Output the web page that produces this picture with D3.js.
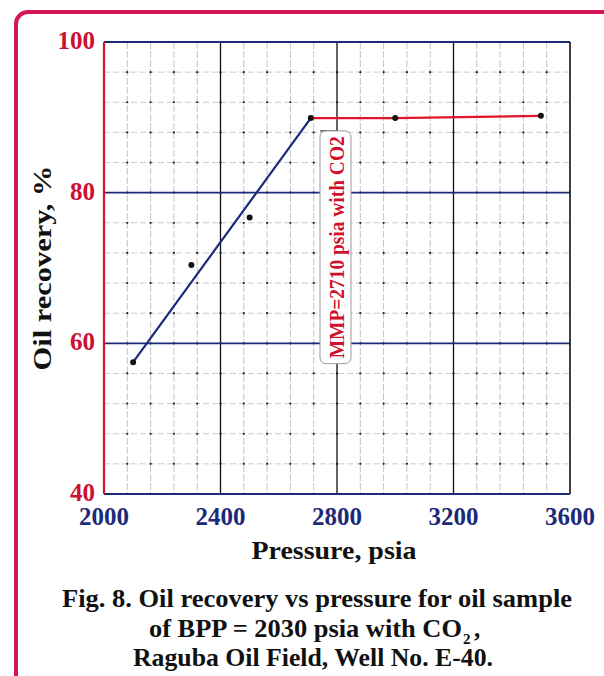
<!DOCTYPE html>
<html lang="en">
<head>
  <meta charset="UTF-8">
  <title>Oil recovery vs pressure</title>
  <script src="https://d3js.org/d3.v7.min.js"></script>
  <style>
    body { margin: 0; background: #fff; }
    svg { display: block; font-family: 'Liberation Serif', 'Times New Roman', serif; }
  </style>
</head>
<body>
  <div id="chart"></div>
  <script>
    // measured points below MMP (blue fit) and above MMP (red line)
    const bluePressure = [2100, 2300, 2500, 2710];
    const blueRecovery = [57.5, 70.4, 76.7, 89.9];
    const redPressure = [2710, 3000, 3500];
    const redRecovery = [89.9, 89.9, 90.2];
    const xTicks = [2000, 2400, 2800, 3200, 3600];
    const yTicks = [40, 60, 80, 100];
    const mmpLabel = "MMP=2710 psia with CO2";

    const W = 604, H = 676;
    const m = { left: 104, top: 42, right: 570, bottom: 494 };
    const navy = "#1c2a7a";

    const svg = d3.select("#chart").append("svg")
      .attr("width", W).attr("height", H);

    // page frame (runs off the right and bottom)
    svg.append("rect")
      .attr("x", 16).attr("y", 12)
      .attr("width", 640).attr("height", 720)
      .attr("rx", 12)
      .attr("fill", "none")
      .attr("stroke", "#d4175a")
      .attr("stroke-width", 4);

    const x = d3.scaleLinear().domain([2000, 3600]).range([m.left, m.right]);
    const y = d3.scaleLinear().domain([40, 100]).range([m.bottom, m.top]);

    const xMinor = d3.range(2000, 3601, 80);
    const yMinor = d3.range(40, 101, 4);

    const grid = svg.append("g");
    // minor grid
    grid.selectAll(".vmin").data(xMinor.filter(v => v % 400 !== 0))
      .join("line")
      .attr("x1", d => x(d)).attr("x2", d => x(d))
      .attr("y1", m.top).attr("y2", m.bottom)
      .attr("stroke", "#c4c4c4").attr("stroke-width", 1)
      .attr("stroke-dasharray", "7,2");
    grid.selectAll(".hmin").data(yMinor.filter(v => v % 20 !== 0))
      .join("line")
      .attr("x1", m.left).attr("x2", m.right)
      .attr("y1", d => y(d)).attr("y2", d => y(d))
      .attr("stroke", "#cccccc").attr("stroke-width", 1)
      .attr("stroke-dasharray", "6,3");
    // dots at minor crossings
    const crossings = [];
    xMinor.slice(1, -1).forEach(px => yMinor.slice(1, -1).forEach(py => crossings.push([px, py])));
    grid.selectAll(".dot").data(crossings)
      .join("circle")
      .attr("cx", d => x(d[0])).attr("cy", d => y(d[1]))
      .attr("r", 1.1).attr("fill", "#222");

    // major grid
    grid.selectAll(".vmaj").data([2400, 2800, 3200])
      .join("line")
      .attr("x1", d => x(d)).attr("x2", d => x(d))
      .attr("y1", m.top).attr("y2", m.bottom)
      .attr("stroke", "#111").attr("stroke-width", 1.3);
    grid.selectAll(".hmaj").data([60, 80])
      .join("line")
      .attr("x1", m.left).attr("x2", m.right)
      .attr("y1", d => y(d)).attr("y2", d => y(d))
      .attr("stroke", navy).attr("stroke-width", 1.6);

    // borders
    svg.append("line").attr("x1", m.left).attr("x2", m.right).attr("y1", m.top).attr("y2", m.top)
      .attr("stroke", navy).attr("stroke-width", 1.8);
    svg.append("line").attr("x1", m.right).attr("x2", m.right).attr("y1", m.top).attr("y2", m.bottom)
      .attr("stroke", "#111").attr("stroke-width", 1.6);
    svg.append("line").attr("x1", m.left).attr("x2", m.right).attr("y1", m.bottom).attr("y2", m.bottom)
      .attr("stroke", navy).attr("stroke-width", 2.2);
    svg.append("line").attr("x1", m.left).attr("x2", m.left).attr("y1", m.top).attr("y2", m.bottom)
      .attr("stroke", "#d4152e").attr("stroke-width", 2.2);

    // MMP annotation box
    const bx = x(2800), by = y(88.2), bh = y(57.3) - y(88.2);
    svg.append("line").attr("x1", bx - 17).attr("x2", bx).attr("y1", by).attr("y2", by)
      .attr("stroke", "#111").attr("stroke-width", 1);
    svg.append("rect")
      .attr("x", bx - 17).attr("y", by)
      .attr("width", 31).attr("height", bh)
      .attr("rx", 6)
      .attr("fill", "#fff")
      .attr("stroke", "#999").attr("stroke-width", 1);
    svg.append("text")
      .attr("transform", `translate(${bx + 7},${by + bh / 2}) rotate(-90)`)
      .attr("text-anchor", "middle")
      .attr("font-size", 20).attr("font-weight", "bold")
      .attr("textLength", 222).attr("lengthAdjust", "spacingAndGlyphs")
      .attr("fill", "#d0102a")
      .text(mmpLabel);

    // data: straight fit through first and last blue points, red line through all
    const line = d3.line().x(d => x(d[0])).y(d => y(d[1]));
    const blue = bluePressure.map((p, i) => [p, blueRecovery[i]]);
    const red = redPressure.map((p, i) => [p, redRecovery[i]]);
    svg.append("path").datum([blue[0], blue[blue.length - 1]]).attr("d", line)
      .attr("fill", "none").attr("stroke", navy).attr("stroke-width", 2.2);
    svg.append("path").datum(red).attr("d", line)
      .attr("fill", "none").attr("stroke", "#e0142a").attr("stroke-width", 2.2);
    svg.selectAll(".pt").data(blue.concat(red.slice(1)))
      .join("circle")
      .attr("cx", d => x(d[0])).attr("cy", d => y(d[1]))
      .attr("r", 3).attr("fill", "#111");

    // tick labels
    svg.selectAll(".yt").data(yTicks)
      .join("text")
      .attr("x", 95).attr("y", d => y(d) + 7)
      .attr("text-anchor", "end")
      .attr("font-size", 25).attr("font-weight", "bold")
      .attr("fill", "#cc1030")
      .text(d => d);
    svg.selectAll(".xt").data(xTicks)
      .join("text")
      .attr("x", d => x(d)).attr("y", 525)
      .attr("text-anchor", "middle")
      .attr("font-size", 25).attr("font-weight", "bold")
      .attr("fill", navy)
      .text(d => d);

    // axis titles
    svg.append("text")
      .attr("transform", `translate(51,${(m.top + m.bottom) / 2}) rotate(-90)`)
      .attr("text-anchor", "middle")
      .attr("font-size", 25).attr("font-weight", "bold")
      .attr("textLength", 205).attr("lengthAdjust", "spacingAndGlyphs")
      .attr("fill", "#111")
      .text("Oil recovery, %");
    svg.append("text")
      .attr("x", 334).attr("y", 559)
      .attr("text-anchor", "middle")
      .attr("font-size", 25).attr("font-weight", "bold")
      .attr("textLength", 165).attr("lengthAdjust", "spacingAndGlyphs")
      .attr("fill", "#111")
      .text("Pressure, psia");

    // caption
    const cap = svg.append("g").attr("font-size", 25).attr("font-weight", "bold")
      .attr("fill", "#111");
    cap.append("text").attr("x", 62).attr("y", 607)
      .attr("textLength", 510).attr("lengthAdjust", "spacingAndGlyphs")
      .text("Fig. 8. Oil recovery vs pressure for oil sample");
    cap.append("text").attr("x", 149).attr("y", 637)
      .attr("textLength", 313).attr("lengthAdjust", "spacingAndGlyphs")
      .text("of BPP = 2030 psia with CO");
    cap.append("text").attr("x", 463).attr("y", 644)
      .attr("font-size", 15)
      .text("2");
    cap.append("text").attr("x", 474).attr("y", 637)
      .text(",");
    cap.append("text").attr("x", 133).attr("y", 666)
      .attr("textLength", 360).attr("lengthAdjust", "spacingAndGlyphs")
      .text("Raguba Oil Field, Well No. E-40.");
  </script>
</body>
</html>
